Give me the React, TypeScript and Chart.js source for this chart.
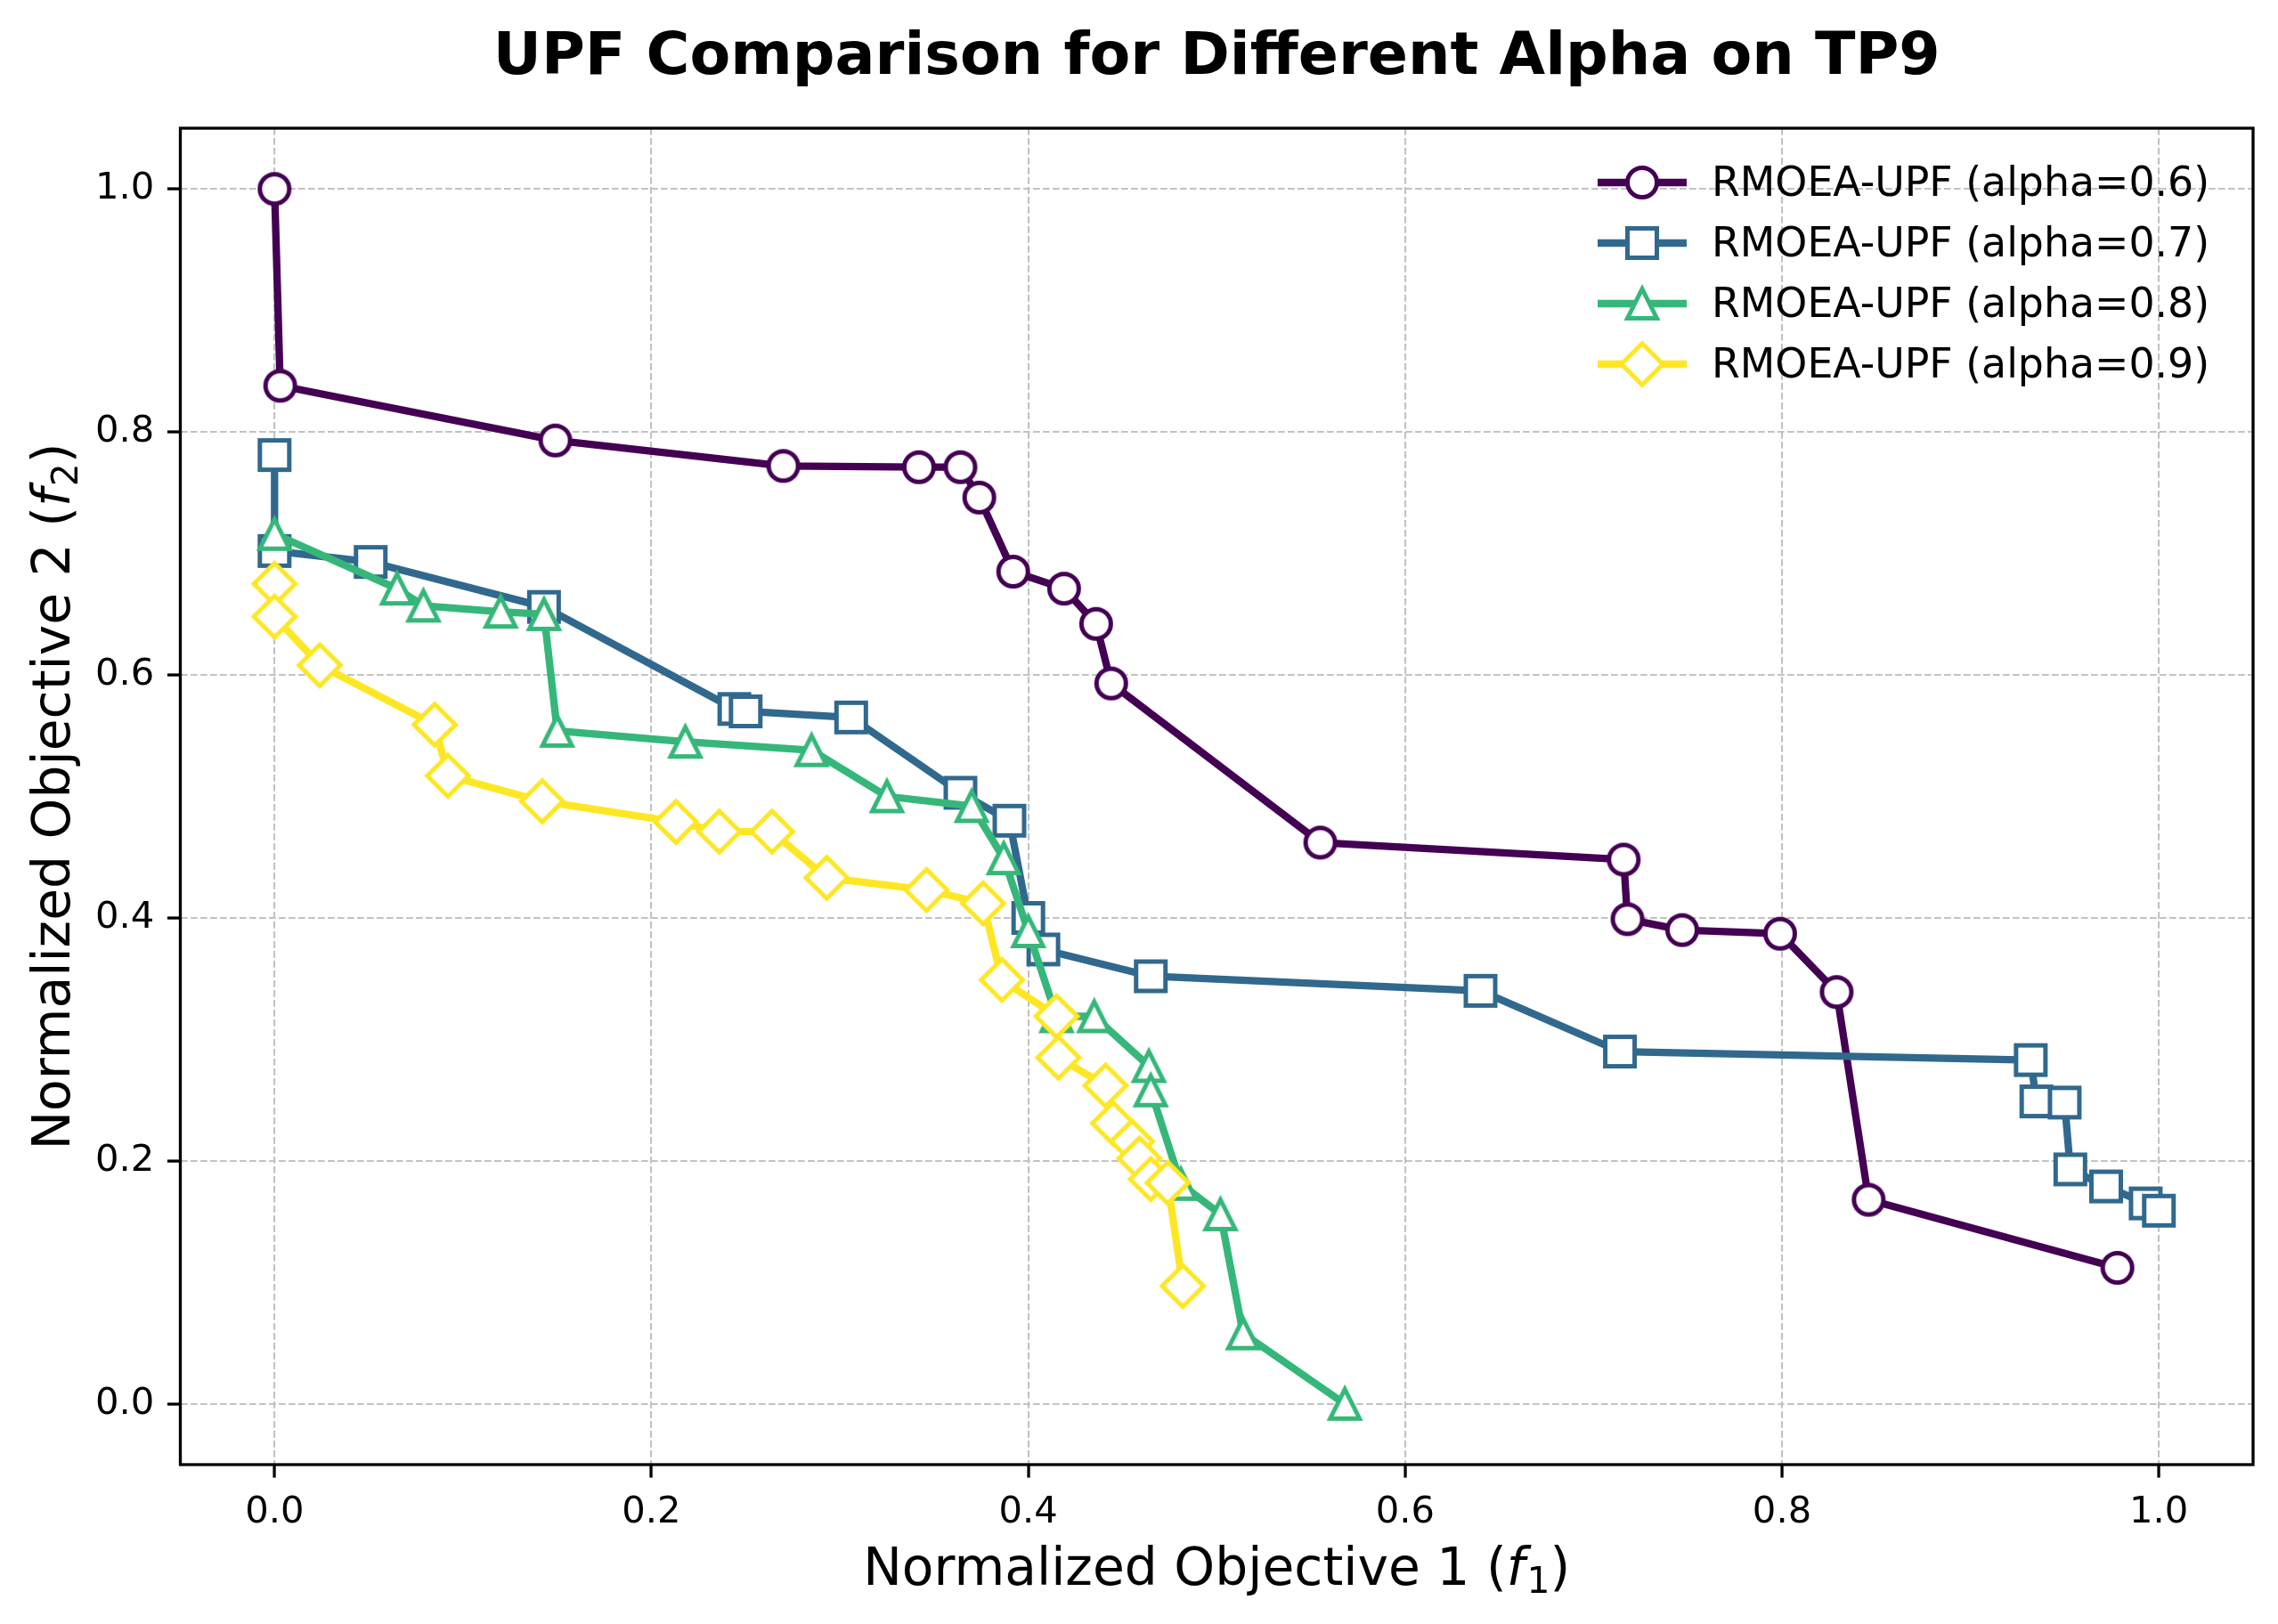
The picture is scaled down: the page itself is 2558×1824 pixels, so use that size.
import React, { useEffect, useRef } from 'react';
import { Chart, registerables } from 'chart.js';

Chart.register(...registerables);

const W = 2558;
const H = 1824;

const chartTitle = 'UPF Comparison for Different Alpha on TP9';
const xAxisPrefix = 'Normalized Objective 1 (';
const xAxisSub = '1';
const yAxisPrefix = 'Normalized Objective 2 (';
const yAxisSub = '2';

const seriesLabels = [
  'RMOEA-UPF (alpha=0.6)',
  'RMOEA-UPF (alpha=0.7)',
  'RMOEA-UPF (alpha=0.8)',
  'RMOEA-UPF (alpha=0.9)',
];
const seriesColors = ['#440154', '#31688e', '#35b779', '#fde725'];
const seriesMarkers = ['circle', 'square', 'triangle', 'diamond'];

const f1Alpha06 = [0.0, 0.003, 0.149, 0.27, 0.342, 0.364, 0.374, 0.392, 0.419, 0.436, 0.444, 0.555, 0.716, 0.718, 0.747, 0.799, 0.829, 0.846, 0.978];
const f2Alpha06 = [1.0, 0.838, 0.793, 0.772, 0.771, 0.771, 0.746, 0.685, 0.671, 0.642, 0.593, 0.462, 0.448, 0.399, 0.39, 0.387, 0.339, 0.168, 0.112];

const f1Alpha07 = [0.0, 0.0, 0.051, 0.143, 0.244, 0.25, 0.306, 0.364, 0.39, 0.4, 0.408, 0.465, 0.64, 0.714, 0.932, 0.935, 0.95, 0.953, 0.972, 0.993, 1.0];
const f2Alpha07 = [0.781, 0.702, 0.693, 0.656, 0.572, 0.57, 0.565, 0.503, 0.48, 0.4, 0.374, 0.352, 0.34, 0.29, 0.283, 0.249, 0.248, 0.193, 0.179, 0.165, 0.159];

const f1Alpha08 = [0.0, 0.065, 0.079, 0.12, 0.143, 0.15, 0.218, 0.285, 0.325, 0.37, 0.387, 0.4, 0.415, 0.435, 0.464, 0.465, 0.481, 0.502, 0.514, 0.568];
const f2Alpha08 = [0.716, 0.671, 0.657, 0.652, 0.65, 0.554, 0.545, 0.538, 0.5, 0.492, 0.449, 0.389, 0.319, 0.319, 0.278, 0.258, 0.181, 0.156, 0.058, 0.0];

const f1Alpha09 = [0.0, 0.0, 0.024, 0.085, 0.092, 0.142, 0.213, 0.236, 0.264, 0.293, 0.346, 0.376, 0.386, 0.415, 0.416, 0.441, 0.445, 0.455, 0.459, 0.465, 0.474, 0.482];
const f2Alpha09 = [0.675, 0.648, 0.608, 0.559, 0.517, 0.496, 0.479, 0.471, 0.471, 0.433, 0.423, 0.412, 0.349, 0.319, 0.285, 0.262, 0.231, 0.216, 0.202, 0.185, 0.182, 0.097];

const xTickValues = [0.0, 0.2, 0.4, 0.6, 0.8, 1.0];
const yTickValues = [0.0, 0.2, 0.4, 0.6, 0.8, 1.0];
const axisMin = -0.05;
const axisMax = 1.05;

const seriesX = [f1Alpha06, f1Alpha07, f1Alpha08, f1Alpha09];
const seriesY = [f2Alpha06, f2Alpha07, f2Alpha08, f2Alpha09];

// layout (pixels)
const AREA_LEFT = 202.5;
const AREA_RIGHT = 2530;
const AREA_TOP = 144;
const AREA_BOTTOM = 1645;
const FONT = '"DejaVu Sans", "Liberation Sans", sans-serif';
const TICK_FS = 41.7;
const LABEL_FS = 58.3;
const TITLE_FS = 66.7;
const LEGEND_FS = 45.8;
const MS = 33; // marker size
const MEW = 5;
const LW = 8.3;

function makeMarker(shape: string, color: string): HTMLCanvasElement {
  const s = 64;
  const c = document.createElement('canvas');
  c.width = s;
  c.height = s;
  const ctx = c.getContext('2d')!;
  ctx.translate(s / 2, s / 2);
  const h = MS / 2;
  ctx.beginPath();
  if (shape === 'circle') {
    ctx.arc(0, 0, h, 0, Math.PI * 2);
  } else if (shape === 'square') {
    ctx.rect(-h, -h, 2 * h, 2 * h);
  } else if (shape === 'triangle') {
    ctx.moveTo(0, -h);
    ctx.lineTo(h, h);
    ctx.lineTo(-h, h);
    ctx.closePath();
  } else {
    const d = MS * Math.SQRT1_2;
    ctx.moveTo(0, -d);
    ctx.lineTo(d, 0);
    ctx.lineTo(0, d);
    ctx.lineTo(-d, 0);
    ctx.closePath();
  }
  ctx.fillStyle = '#ffffff';
  ctx.fill();
  ctx.lineWidth = MEW;
  ctx.lineJoin = 'miter';
  ctx.strokeStyle = color;
  ctx.stroke();
  return c;
}

function drawMathLabel(ctx: CanvasRenderingContext2D, prefix: string, sub: string, cx: number, baseline: number, fs: number) {
  const normal = `${fs}px ${FONT}`;
  const ital = `italic ${fs}px ${FONT}`;
  const subFont = `${fs * 0.7}px ${FONT}`;
  ctx.font = normal;
  const w1 = ctx.measureText(prefix).width;
  const wc = ctx.measureText(')').width;
  ctx.font = ital;
  const wf = ctx.measureText('f').width;
  ctx.font = subFont;
  const ws = ctx.measureText(sub).width;
  const gap = fs * 0.04;
  const total = w1 + wf + gap + ws + wc;
  let x = cx - total / 2;
  ctx.fillStyle = '#000';
  ctx.textAlign = 'left';
  ctx.textBaseline = 'alphabetic';
  ctx.font = normal;
  ctx.fillText(prefix, x, baseline);
  x += w1;
  ctx.font = ital;
  ctx.fillText('f', x, baseline);
  x += wf + gap;
  ctx.font = subFont;
  ctx.fillText(sub, x, baseline + fs * 0.15);
  x += ws;
  ctx.font = normal;
  ctx.fillText(')', x, baseline);
}

export default function App() {
  const canvasRef = useRef<HTMLCanvasElement | null>(null);

  useEffect(() => {
    document.body.style.margin = '0';
    document.body.style.overflow = 'hidden';
    const canvas = canvasRef.current;
    if (!canvas) return;

    const markers = seriesMarkers.map((m, i) => makeMarker(m, seriesColors[i]));

    const datasets = seriesLabels.map((label, i) => ({
      label,
      data: seriesX[i].map((x, j) => ({ x, y: seriesY[i][j] })),
      showLine: true,
      borderColor: seriesColors[i],
      backgroundColor: '#ffffff',
      borderWidth: LW,
      borderJoinStyle: 'round' as const,
      borderCapStyle: 'square' as const,
      pointStyle: markers[i],
      pointRadius: 17,
      pointHoverRadius: 17,
      tension: 0,
      order: seriesLabels.length - i,
      clip: false as const,
    }));

    const decor = {
      id: 'decor',
      afterDatasetsDraw(chart: any) {
        const ctx: CanvasRenderingContext2D = chart.ctx;
        const a = chart.chartArea;
        ctx.save();
        ctx.strokeStyle = '#000';
        ctx.lineWidth = 3.3;
        ctx.lineJoin = 'miter';
        ctx.strokeRect(a.left, a.top, a.right - a.left, a.bottom - a.top);
        ctx.restore();
      },
      afterDraw(chart: any) {
        const ctx: CanvasRenderingContext2D = chart.ctx;
        const a = chart.chartArea;
        ctx.save();
        // title
        ctx.fillStyle = '#000';
        ctx.font = `bold ${TITLE_FS}px ${FONT}`;
        ctx.textAlign = 'center';
        ctx.textBaseline = 'alphabetic';
        ctx.fillText(chartTitle, (a.left + a.right) / 2, 82.7);
        // x label
        drawMathLabel(ctx, xAxisPrefix, xAxisSub, (a.left + a.right) / 2, 1780, LABEL_FS);
        // y label
        ctx.save();
        ctx.translate(78, (a.top + a.bottom) / 2);
        ctx.rotate(-Math.PI / 2);
        drawMathLabel(ctx, yAxisPrefix, yAxisSub, 0, 0, LABEL_FS);
        ctx.restore();
        // legend
        for (let i = 0; i < seriesLabels.length; i++) {
          const cy = 205 + 68 * i;
          ctx.beginPath();
          ctx.strokeStyle = seriesColors[i];
          ctx.lineWidth = LW;
          ctx.lineCap = 'butt';
          ctx.moveTo(1794, cy);
          ctx.lineTo(1894, cy);
          ctx.stroke();
          const m = markers[i];
          ctx.drawImage(m, 1844 - m.width / 2, cy - m.height / 2);
          ctx.fillStyle = '#000';
          ctx.font = `${LEGEND_FS}px ${FONT}`;
          ctx.textAlign = 'left';
          ctx.textBaseline = 'alphabetic';
          ctx.fillText(seriesLabels[i], 1922, cy + 15);
        }
        ctx.restore();
      },
    };

    const gridCommon = {
      color: '#c2c2c2',
      lineWidth: 2.1,
      drawTicks: true,
      tickLength: 14.6,
      tickColor: '#000',
      tickWidth: 3.3,
      tickBorderDash: [],
    };
    const tickCommon = {
      font: { family: FONT, size: TICK_FS },
      color: '#000',
      padding: 14.6,
      autoSkip: false,
      maxRotation: 0,
      minRotation: 0,
      callback: (v: any) => Number(v).toFixed(1),
    };

    const chart = new Chart(canvas, {
      type: 'scatter',
      data: { datasets: datasets as any },
      options: {
        animation: false,
        responsive: false,
        devicePixelRatio: 1,
        events: [],
        layout: { padding: { top: AREA_TOP, right: W - AREA_RIGHT, left: 0, bottom: 0 } },
        plugins: {
          legend: { display: false },
          title: { display: false },
          tooltip: { enabled: false },
        },
        scales: {
          x: {
            type: 'linear',
            min: axisMin,
            max: axisMax,
            afterBuildTicks: (s: any) => {
              s.ticks = xTickValues.map((v) => ({ value: v }));
            },
            afterFit: (s: any) => {
              s.height = H - AREA_BOTTOM;
            },
            grid: gridCommon as any,
            border: { display: false, dash: [7.7, 3.3] } as any,
            ticks: tickCommon as any,
            title: { display: false },
          },
          y: {
            type: 'linear',
            min: axisMin,
            max: axisMax,
            afterBuildTicks: (s: any) => {
              s.ticks = yTickValues.map((v) => ({ value: v }));
            },
            afterFit: (s: any) => {
              s.width = AREA_LEFT;
            },
            grid: gridCommon as any,
            border: { display: false, dash: [7.7, 3.3] } as any,
            ticks: tickCommon as any,
            title: { display: false },
          },
        },
      } as any,
      plugins: [decor],
    });

    return () => {
      chart.destroy();
    };
  }, []);

  return (
    <div style={{ width: W, height: H, background: '#fff' }}>
      <canvas ref={canvasRef} width={W} height={H} style={{ display: 'block', width: W, height: H }} />
    </div>
  );
}
